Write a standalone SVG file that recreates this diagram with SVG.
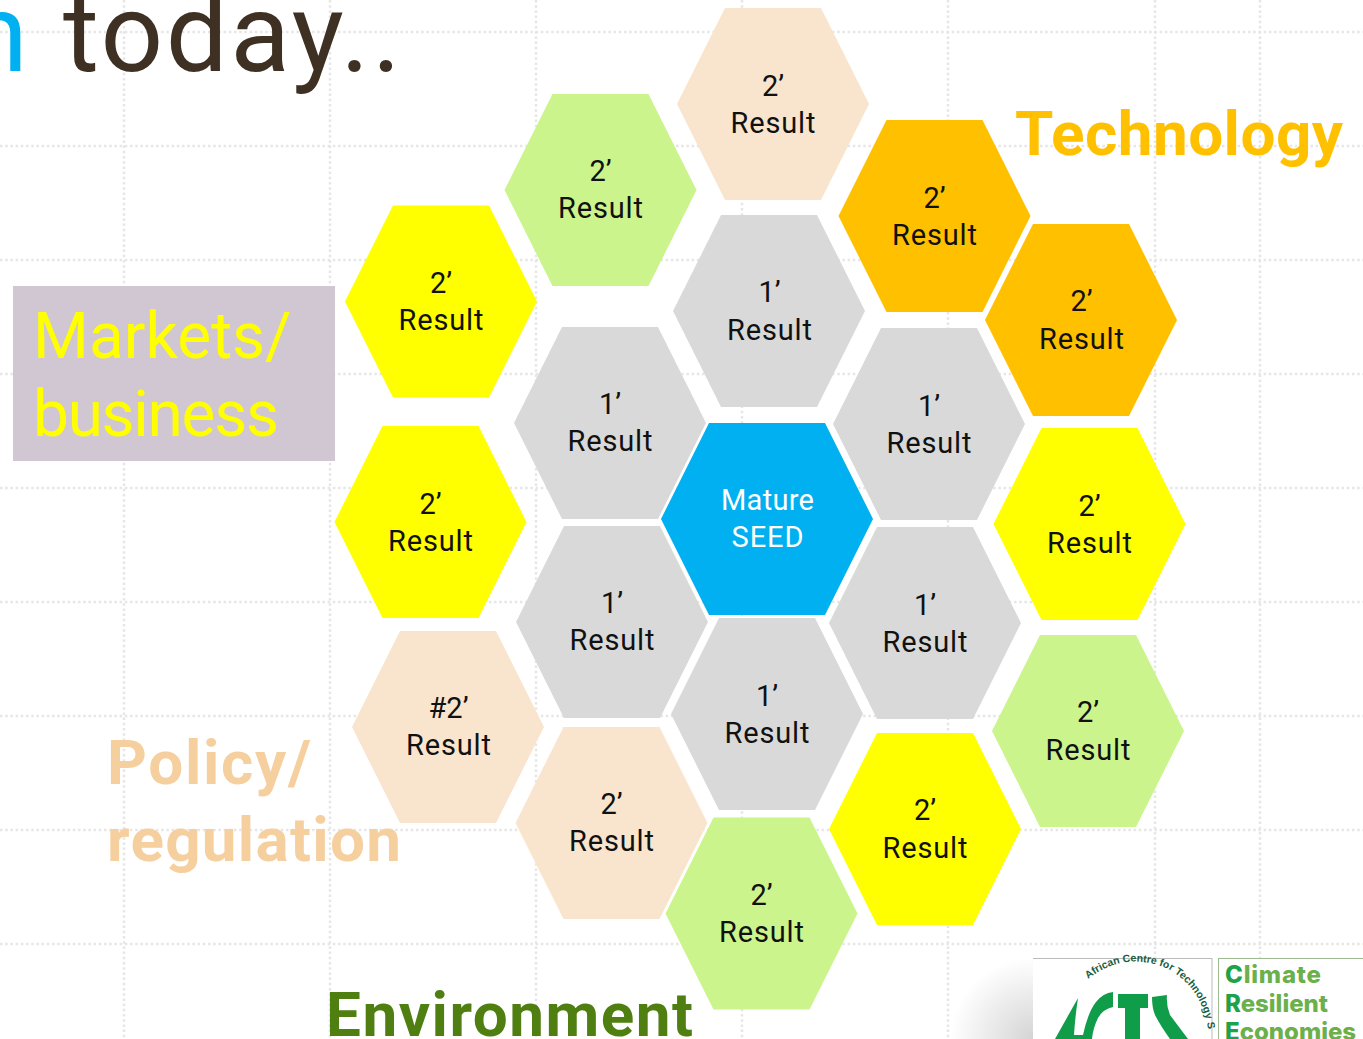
<svg xmlns="http://www.w3.org/2000/svg" width="1363" height="1039" viewBox="0 0 1363 1039">
<style>
.grid{stroke:#e6e6e6;stroke-width:2.500;stroke-dasharray:2.500 2.700;fill:none}
.lbl{font-family:"Roboto","Noto Sans",sans-serif;font-size:29px;text-anchor:middle;fill:#111}
.big{font-family:"Roboto","Noto Sans",sans-serif;}
.g{fill:#d9d9d9}.p{fill:#f9e5cd}.l{fill:#ccf48c}.o{fill:#ffc000}.y{fill:#ffff00}
</style>
<defs>
<polygon id="h" points="-96,0 -48,-96 48,-96 96,0 48,96 -48,96"/>
<radialGradient id="sh" cx="1" cy="1" r="1"><stop offset="0" stop-color="#d4d4d4"/><stop offset="1" stop-color="#fff"/></radialGradient>
<path id="arc" d="M1088,979 Q1125,950 1168,969 Q1206,990 1209,1039"/>
</defs>
<rect width="1363" height="1039" fill="#fff"/>
<g class="grid">
<path d="M0,32H1363M0,146H1363M0,260H1363M0,374H1363M0,488H1363M0,602H1363M0,716H1363M0,830H1363M0,944H1363"/>
<path d="M124,0V1039M330,0V1039M536,0V1039M742,0V1039M948,0V1039M1155,0V1039M1260,0V1039"/>
</g>
<g id="title"><text class="big" x="-33" y="71" font-size="110" fill="#00b0f0">n</text><text class="big" x="63" y="71" font-size="110" textLength="338" fill="#3e3023">today..</text></g>
<g id="markets"><rect x="13" y="286" width="322" height="175" fill="#d0c7d2"/><text class="big" x="33" y="358" font-size="64" fill="#ffff00">Markets/</text><text class="big" x="33" y="436" font-size="64" textLength="246" fill="#ffff00">business</text></g>
<g id="policy" class="big" font-size="62" font-weight="700" fill="#f6cf9f"><text x="107" y="784" textLength="204">Policy/</text><text x="107" y="861" textLength="294">regulation</text></g>
<g id="technology"><text class="big" x="1015" y="155" font-size="62" font-weight="700" textLength="328" fill="#ffc000">Technology</text></g>
<g id="environment"><text class="big" x="326" y="1036" font-size="62" font-weight="700" textLength="367" fill="#4f7f10">Environment</text></g>
<g id="connectors"></g>
<g id="n1"><use href="#h" x="773" y="104" class="p"/><text class="lbl" x="773" y="96">2’</text><text class="lbl" x="773" y="133" textLength="85">Result</text></g>
<g id="n2"><use href="#h" x="600.500" y="190" class="l"/><text class="lbl" x="600.500" y="181">2’</text><text class="lbl" x="600.500" y="218" textLength="85">Result</text></g>
<g id="n3"><use href="#h" x="934.500" y="216" class="o"/><text class="lbl" x="934.500" y="208">2’</text><text class="lbl" x="934.500" y="245" textLength="85">Result</text></g>
<g id="n4"><use href="#h" x="441" y="301.500" class="y"/><text class="lbl" x="441" y="293">2’</text><text class="lbl" x="441" y="330" textLength="85">Result</text></g>
<g id="n5"><use href="#h" x="769" y="311" class="g"/><text class="lbl" x="769.500" y="302">1’</text><text class="lbl" x="769.500" y="340" textLength="85">Result</text></g>
<g id="n6"><use href="#h" x="1081" y="320" class="o"/><text class="lbl" x="1081.500" y="311">2’</text><text class="lbl" x="1081.500" y="349" textLength="85">Result</text></g>
<g id="n7"><use href="#h" x="610" y="423" class="g"/><text class="lbl" x="610" y="414">1’</text><text class="lbl" x="610" y="451" textLength="85">Result</text></g>
<g id="n8"><use href="#h" x="929" y="424" class="g"/><text class="lbl" x="929" y="416">1’</text><text class="lbl" x="929" y="453" textLength="85">Result</text></g>
<g id="n9"><use href="#h" x="430.500" y="522" class="y"/><text class="lbl" x="430.500" y="514">2’</text><text class="lbl" x="430.500" y="551" textLength="85">Result</text></g>
<g id="n10"><use href="#h" x="1089.500" y="524" class="y"/><text class="lbl" x="1089.500" y="516">2’</text><text class="lbl" x="1089.500" y="553" textLength="85">Result</text></g>
<g id="n11"><use href="#h" x="612" y="622" class="g"/><text class="lbl" x="612" y="613">1’</text><text class="lbl" x="612" y="650" textLength="85">Result</text></g>
<g id="n12"><use href="#h" x="925" y="623" class="g"/><text class="lbl" x="925" y="615">1’</text><text class="lbl" x="925" y="652" textLength="85">Result</text></g>
<g id="n13"><use href="#h" x="448" y="727" class="p"/><text class="lbl" x="448.500" y="718">#2’</text><text class="lbl" x="448.500" y="755" textLength="85">Result</text></g>
<g id="n14"><use href="#h" x="767" y="714" class="g"/><text class="lbl" x="767" y="706">1’</text><text class="lbl" x="767" y="743" textLength="85">Result</text></g>
<g id="n15"><use href="#h" x="1088" y="731" class="l"/><text class="lbl" x="1088" y="722">2’</text><text class="lbl" x="1088" y="760" textLength="85">Result</text></g>
<g id="n16"><use href="#h" x="611.500" y="823" class="p"/><text class="lbl" x="611.500" y="814">2’</text><text class="lbl" x="611.500" y="851" textLength="85">Result</text></g>
<g id="n17"><use href="#h" x="925" y="829" class="y"/><text class="lbl" x="925" y="820">2’</text><text class="lbl" x="925" y="858" textLength="85">Result</text></g>
<g id="n18"><use href="#h" x="761.500" y="913.500" class="l"/><text class="lbl" x="761.500" y="905">2’</text><text class="lbl" x="761.500" y="942" textLength="85">Result</text></g>
<g id="center"><polygon points="661,519 709,423 825,423 873,519 825,615 709,615" fill="#00b0f0"/><text class="lbl" x="767.500" y="510" textLength="93" style="fill:#fff">Mature</text><text class="lbl" x="767.500" y="547" textLength="72" style="fill:#fff">SEED</text></g>
<g id="logos">
<rect x="950" y="958" width="84" height="81" fill="url(#sh)"/>
<rect x="1033" y="958" width="179" height="81" fill="#fff"/>
<path d="M1033,958.500H1212M1212,958V1039" stroke="#bbb" fill="none"/>
<text font-family="'Liberation Sans',sans-serif" font-size="10.500" font-weight="700" fill="#1a5c3a"><textPath href="#arc">African Centre for Technology S</textPath></text>
<path fill="#0f9d4a" d="M1055,1039 L1078,998 Q1075,1018 1074,1035 H1083 Q1088,1012 1096,1002 Q1103,993 1113,992 V1007 Q1103,1009 1098,1018 Q1093,1028 1092,1039Z M1118,994 H1148 V1008 H1140 V1039 H1125 V1008 H1118Z M1152,997 L1167,995 Q1166,1005 1170,1015 L1188,1039 H1170 Q1160,1025 1155,1015 Q1152,1008 1152,997Z"/>
<rect x="1218.500" y="958.500" width="146" height="82" fill="#fff" stroke="#9cb98f"/>
<g font-family="Inter,'Noto Sans',sans-serif" font-weight="800" font-size="24" fill="#6bb04a"><text x="1225" y="983" textLength="96"><tspan fill="#1ea24a">C</tspan>limate</text><text x="1225" y="1012"><tspan fill="#1ea24a">R</tspan>esilient</text><text x="1225" y="1040"><tspan fill="#1ea24a">E</tspan>conomies</text></g>
</g>
</svg>
